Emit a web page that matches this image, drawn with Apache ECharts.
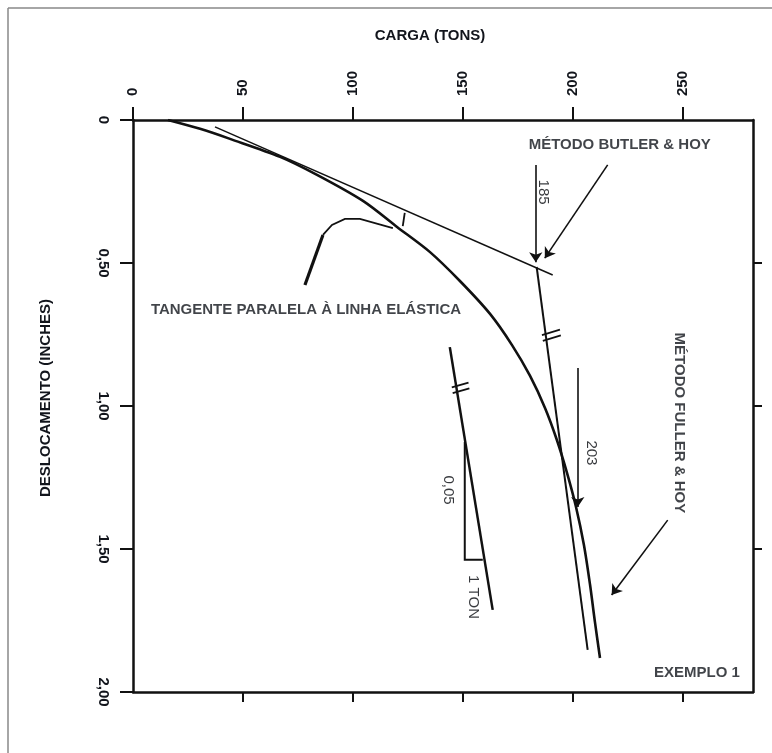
<!DOCTYPE html>
<html><head><meta charset="utf-8">
<script src="https://cdn.jsdelivr.net/npm/echarts@6/dist/echarts.min.js"></script>
<style>html,body{margin:0;padding:0;background:#fff}#c{width:772px;height:753px}</style>
</head><body><div id="c"></div>
<script>
// ---- axes ----
const loadTicks = [0, 50, 100, 150, 200, 250];
const loadTickLabels = ['0', '50', '100', '150', '200', '250'];
const bottomTicks = [50, 100, 150, 200, 250];
const dispTicks = [0, 0.5, 1, 1.5, 2];
const dispTickLabels = ['0', '0,50', '1,00', '1,50', '2,00'];
const rightTicks = [0.5, 1, 1.5];

// ---- load-displacement curve [tons, inches] ----
const loadCurve = [
  [15.9, 0.000], [30.5, 0.031], [44.1, 0.066], [66.9, 0.129], [83.7, 0.192],
  [104.6, 0.283], [120.1, 0.374], [135.1, 0.462], [148.7, 0.563], [162.4, 0.678],
  [172.4, 0.787], [180.6, 0.895], [187.4, 1.007], [192.8, 1.119], [197.4, 1.234],
  [201.5, 1.353], [205.1, 1.486], [207.9, 1.626], [210.1, 1.755], [212.4, 1.881]
];
// ---- construction lines ----
const elasticTangent = [[37.3, 0.024], [190.9, 0.542]];
const butlerLine = [[183.6, 0.514], [206.8, 1.853]];
const slopeLine = [[144.1, 0.794], [163.6, 1.713]];
const slopeTriangle = [[150.9, 1.126], [150.9, 1.538], [159.1, 1.538]];
const leaderStem = [[78.2, 0.577], [86.4, 0.402]];
const leaderHook = [[86.4, 0.402], [90.5, 0.367], [96.4, 0.346], [103.2, 0.346], [118.2, 0.378]];
const offsetTick = [[123.6, 0.325], [122.7, 0.371]];
const hashSlope = [[[145.0, 0.935], [152.6, 0.918]], [[145.4, 0.955], [153.0, 0.938]]];
const hashButler = [[[186.0, 0.752], [194.2, 0.733]], [[186.4, 0.772], [194.6, 0.753]]];
// ---- arrows ----
const arrows = [
  [[183.2, 0.157], [183.2, 0.497]],
  [[215.9, 0.157], [187.3, 0.483]],
  [[202.3, 0.867], [202.3, 1.353]],
  [[243.2, 1.399], [217.7, 1.661]]
];
// ---- annotations ----
const boldNotes = ['MÉTODO BUTLER & HOY', 'TANGENTE PARALELA À LINHA ELÁSTICA', 'EXEMPLO 1'];
const boldNoteAt = [[221.4, 0.087], [78.7, 0.664], [256.5, 1.934]];
const vertNotes = ['185', '203', '0,05', '1 TON'];
const vertNoteAt = [[186.4, 0.252], [208.6, 1.164], [143.2, 1.294], [154.5, 1.668]];
const vertBoldNotes = ['MÉTODO FULLER & HOY'];
const vertBoldNoteAt = [[248.2, 1.059]];

const FONT = "'Liberation Sans', Arial, sans-serif";
const INK = '#111';
const TXT = '#12151c';

function seg(coords, w) {
  return { type: 'lines', coordinateSystem: 'cartesian2d', polyline: true, silent: true,
    data: [{ coords: coords }], lineStyle: { color: INK, width: w, opacity: 1 }, z: 3 };
}
function multiSeg(list, w) {
  return { type: 'lines', coordinateSystem: 'cartesian2d', silent: true,
    data: list.map(c => ({ coords: c })), lineStyle: { color: INK, width: w, opacity: 1 }, z: 3 };
}
function notes(texts, at, opt) {
  return { type: 'scatter', symbolSize: 0, silent: true, z: 5,
    data: texts.map((t, i) => ({ value: at[i], name: t })),
    label: Object.assign({ show: true, position: 'inside', formatter: p => p.name,
      color: TXT, fontFamily: FONT }, opt) };
}

const chart = echarts.init(document.getElementById('c'), null, { renderer: 'canvas' });
chart.setOption({
  backgroundColor: '#fff',
  animation: false,
  grid: { left: 133, top: 120, right: 19, bottom: 61, show: false },
  xAxis: [
    { type: 'value', position: 'top', min: 0, max: 282,
      axisLine: { show: true, onZero: false, lineStyle: { color: INK, width: 2.5 } },
      axisTick: { show: true, length: 13, lineStyle: { color: INK, width: 2 }, customValues: loadTicks },
      axisLabel: { show: true, rotate: -90, margin: 24, customValues: loadTicks,
        formatter: v => loadTickLabels[loadTicks.indexOf(v)] ?? '',
        fontFamily: FONT, fontSize: 15, fontWeight: 'bold', color: TXT },
      splitLine: { show: false } },
    { type: 'value', position: 'bottom', min: 0, max: 282,
      axisLine: { show: true, onZero: false, lineStyle: { color: INK, width: 2.5 } },
      axisTick: { show: true, length: 10, lineStyle: { color: INK, width: 2 }, customValues: bottomTicks },
      axisLabel: { show: false }, splitLine: { show: false } }
  ],
  yAxis: [
    { type: 'value', position: 'left', inverse: true, min: 0, max: 2,
      axisLine: { show: true, onZero: false, lineStyle: { color: INK, width: 2.5 } },
      axisTick: { show: true, length: 13, lineStyle: { color: INK, width: 2 }, customValues: dispTicks },
      axisLabel: { show: true, rotate: -90, margin: 22, customValues: dispTicks,
        formatter: v => dispTickLabels[dispTicks.indexOf(v)] ?? '',
        fontFamily: FONT, fontSize: 15, fontWeight: 'bold', color: TXT },
      splitLine: { show: false } },
    { type: 'value', position: 'right', inverse: true, min: 0, max: 2,
      axisLine: { show: true, onZero: false, lineStyle: { color: INK, width: 2.5 } },
      axisTick: { show: true, length: 9, lineStyle: { color: INK, width: 2 }, customValues: rightTicks },
      axisLabel: { show: false }, splitLine: { show: false } }
  ],
  graphic: [
    { type: 'line', shape: { x1: 8, y1: 8, x2: 772, y2: 8 }, style: { stroke: '#888', lineWidth: 1.5 } },
    { type: 'line', shape: { x1: 8, y1: 8, x2: 8, y2: 753 }, style: { stroke: '#888', lineWidth: 1.5 } },
    { type: 'text', x: 430, y: 36, style: { text: 'CARGA (TONS)', font: "bold 15px 'Liberation Sans', Arial",
      fill: TXT, textAlign: 'center', textVerticalAlign: 'middle' } },
    { type: 'text', x: 46, y: 398, rotation: Math.PI / 2, style: { text: 'DESLOCAMENTO (INCHES)',
      font: "bold 15px 'Liberation Sans', Arial", fill: TXT, textAlign: 'center', textVerticalAlign: 'middle' } }
  ],
  series: [
    { type: 'line', data: loadCurve, showSymbol: false, smooth: 0.3, silent: true,
      lineStyle: { color: INK, width: 2.6 }, z: 4 },
    seg(elasticTangent, 1.5),
    seg(butlerLine, 2),
    seg(slopeLine, 2.5),
    seg(slopeTriangle, 2),
    seg(leaderStem, 3.2),
    seg(leaderHook, 1.8),
    seg(offsetTick, 1.8),
    multiSeg(hashSlope, 1.8),
    multiSeg(hashButler, 1.8),
    { type: 'lines', coordinateSystem: 'cartesian2d', silent: true,
      data: arrows.map(c => ({ coords: c })), symbol: ['none', 'arrow'], symbolSize: [0, 10],
      lineStyle: { color: INK, width: 1.6, opacity: 1 }, z: 3 },
    notes(boldNotes, boldNoteAt, { fontSize: 15, fontWeight: 'bold' }),
    notes(vertNotes, vertNoteAt, { fontSize: 15, color: '#05070c' , rotate: -90 }),
    notes(vertBoldNotes, vertBoldNoteAt, { fontSize: 15, fontWeight: 'bold', rotate: -90 })
  ]
});
</script></body></html>
